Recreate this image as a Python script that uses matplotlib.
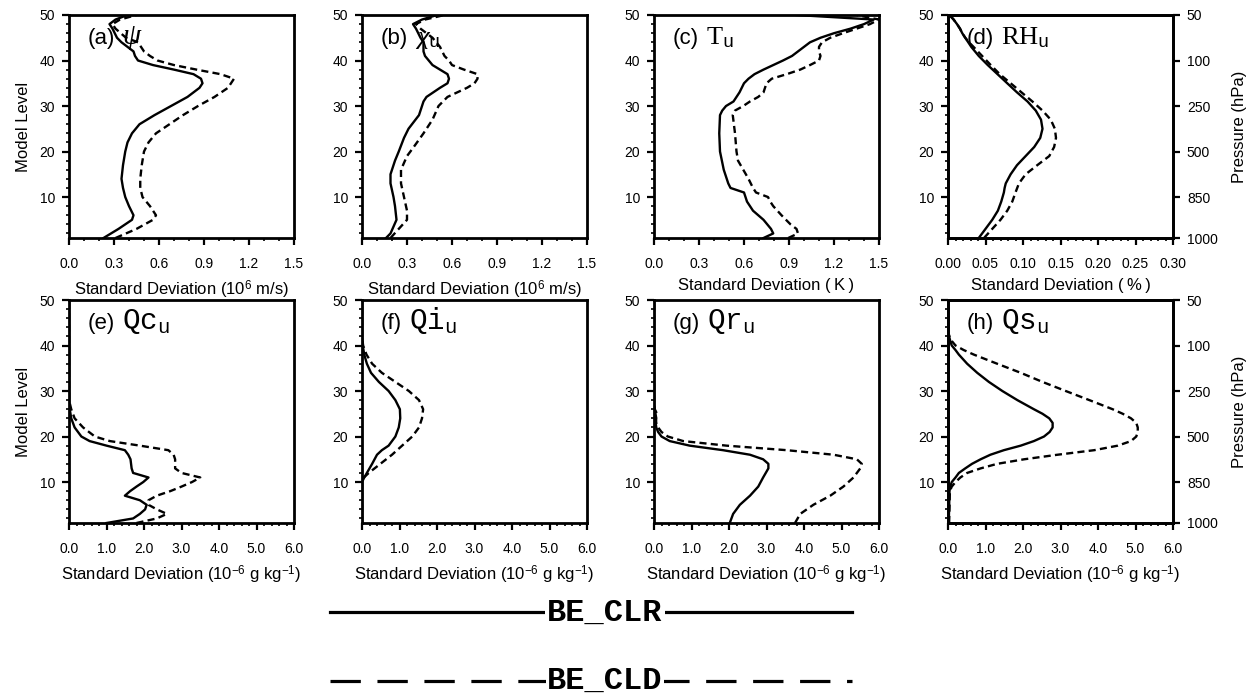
import matplotlib
matplotlib.use("Agg")
import matplotlib.pyplot as plt
from matplotlib.ticker import MultipleLocator, FormatStrFormatter
from matplotlib.lines import Line2D

plt.rcParams.update({
    'font.family': 'Liberation Sans',
    'mathtext.fontset': 'custom',
    'mathtext.rm': 'Liberation Sans',
    'mathtext.sf': 'Liberation Serif',
    'mathtext.tt': 'Liberation Mono',
    'mathtext.it': 'Liberation Serif:italic',
    'mathtext.bf': 'Liberation Sans:bold',
})

# ---------------- data (model level vs standard deviation) ----------------
# (a) psi
lev_psi_clr = [1, 3, 5, 6, 8, 10, 12, 14, 17, 20, 22, 24, 26, 27, 28, 30, 32, 34, 35, 36, 37, 38, 39, 40, 41, 42, 43, 44, 45, 47, 48, 49, 50]
psi_clr = [0.23, 0.33, 0.42, 0.43, 0.40, 0.375, 0.36, 0.35, 0.36, 0.375, 0.39, 0.42, 0.47, 0.52, 0.57, 0.68, 0.79, 0.87, 0.89, 0.88, 0.83, 0.70, 0.56, 0.46, 0.44, 0.43, 0.39, 0.35, 0.32, 0.29, 0.27, 0.31, 0.39]
lev_psi_cld = [1, 3, 5, 6, 7, 8, 10, 12, 14, 17, 20, 22, 24, 26, 28, 30, 32, 34, 35, 36, 37, 38, 39, 40, 41, 42, 43, 44, 45, 47, 48, 49, 50]
psi_cld = [0.31, 0.45, 0.56, 0.58, 0.56, 0.54, 0.49, 0.475, 0.475, 0.485, 0.50, 0.53, 0.58, 0.67, 0.76, 0.86, 0.97, 1.06, 1.08, 1.10, 1.01, 0.85, 0.70, 0.59, 0.54, 0.50, 0.48, 0.46, 0.38, 0.31, 0.29, 0.34, 0.45]

# (b) chi_u
lev_chi_clr = [1, 2, 5, 8, 10, 13, 15, 18, 20, 23, 25, 28, 31, 32, 34, 35, 36, 37, 38, 39, 41, 42, 44, 45, 47, 48, 49, 50]
chi_clr = [0.16, 0.19, 0.23, 0.22, 0.21, 0.19, 0.19, 0.22, 0.245, 0.28, 0.31, 0.38, 0.41, 0.43, 0.52, 0.57, 0.58, 0.57, 0.52, 0.47, 0.42, 0.41, 0.41, 0.39, 0.36, 0.34, 0.40, 0.50]
lev_chi_cld = [1, 3, 5, 7, 10, 13, 16, 19, 21, 24, 27, 30, 32, 33, 34, 35, 36, 37, 38, 39, 40, 41, 43, 45, 47, 48, 49, 50]
chi_cld = [0.19, 0.245, 0.30, 0.30, 0.28, 0.26, 0.26, 0.30, 0.345, 0.41, 0.47, 0.51, 0.57, 0.635, 0.70, 0.75, 0.77, 0.77, 0.68, 0.60, 0.58, 0.55, 0.52, 0.47, 0.39, 0.36, 0.42, 0.55]

# (c) T_u
lev_t_clr = [1, 2, 3, 5, 7, 9, 11, 12, 13, 16, 20, 24, 28, 29, 30, 31, 32, 33, 34, 35, 36, 37, 38, 39, 40, 41, 42, 43, 44, 45, 46, 47, 48, 49, 50]
t_clr = [0.73, 0.795, 0.78, 0.73, 0.66, 0.62, 0.60, 0.51, 0.495, 0.465, 0.44, 0.435, 0.44, 0.455, 0.48, 0.53, 0.55, 0.57, 0.585, 0.60, 0.63, 0.67, 0.73, 0.795, 0.86, 0.92, 0.96, 1.00, 1.04, 1.11, 1.20, 1.31, 1.40, 1.465, 0.95]
lev_t_cld = [1, 2, 3, 4, 6, 8, 9, 10, 11, 12, 14, 16, 18, 20, 24, 28, 29, 30, 31, 32, 33, 34, 35, 36, 37, 38, 39, 40, 41, 42, 43, 44, 45, 46, 47, 48, 49, 50]
t_cld = [0.895, 0.96, 0.95, 0.91, 0.85, 0.795, 0.775, 0.76, 0.68, 0.66, 0.63, 0.595, 0.56, 0.55, 0.54, 0.525, 0.54, 0.595, 0.64, 0.695, 0.73, 0.74, 0.75, 0.785, 0.885, 0.975, 1.04, 1.10, 1.11, 1.10, 1.10, 1.12, 1.175, 1.26, 1.35, 1.44, 1.50, 1.35]

# (d) RH_u
lev_rh_clr = [1, 3, 5, 7, 9, 11, 12, 13, 15, 17, 19, 21, 23, 25, 27, 29, 31, 33, 35, 37, 39, 41, 43, 45, 46, 47, 48, 49, 50]
rh_clr = [0.041, 0.050, 0.059, 0.0665, 0.071, 0.0745, 0.0755, 0.077, 0.0835, 0.092, 0.1035, 0.115, 0.123, 0.126, 0.124, 0.117, 0.106, 0.092, 0.079, 0.066, 0.053, 0.041, 0.031, 0.023, 0.019, 0.016, 0.012, 0.0075, 0.002]
lev_rh_cld = [1, 3, 5, 7, 9, 11, 13, 15, 17, 19, 21, 23, 25, 27, 29, 31, 33, 35, 37, 39, 41, 43, 44, 45, 46, 47, 48, 49, 50]
rh_cld = [0.048, 0.059, 0.070, 0.079, 0.0857, 0.090, 0.0946, 0.1035, 0.119, 0.135, 0.1415, 0.144, 0.1425, 0.137, 0.126, 0.1125, 0.098, 0.0835, 0.069, 0.057, 0.0455, 0.034, 0.028, 0.023, 0.019, 0.016, 0.012, 0.0075, 0.002]

# (e) Qc_u
lev_qc_clr = [1, 2, 3, 4, 5, 6, 7, 8, 9, 10, 11, 12, 13, 15, 16, 17, 18, 19, 20, 22, 24, 26, 28, 50]
qc_clr = [1.0, 1.71, 1.89, 2.03, 2.07, 1.89, 1.49, 1.63, 1.80, 1.98, 2.12, 1.71, 1.67, 1.64, 1.58, 1.49, 1.0, 0.55, 0.33, 0.15, 0.06, 0.02, 0.0, 0.0]
lev_qc_cld = [1, 2, 3, 4, 5, 6, 7, 8, 9, 10, 11, 12, 13, 15, 16, 17, 18, 19, 20, 22, 24, 26, 28, 50]
qc_cld = [1.8, 2.34, 2.61, 2.34, 2.12, 2.12, 2.34, 2.7, 3.0, 3.28, 3.5, 3.0, 2.83, 2.83, 2.79, 2.65, 1.89, 1.09, 0.69, 0.375, 0.15, 0.06, 0.0, 0.0]

# (f) Qi_u
lev_qi_clr = [1, 10, 11, 12, 14, 16, 17, 18, 20, 22, 24, 26, 28, 30, 32, 34, 36, 38, 40, 42, 50]
qi_clr = [0.0, 0.0, 0.06, 0.13, 0.27, 0.40, 0.53, 0.71, 0.89, 0.98, 1.02, 1.01, 0.89, 0.71, 0.45, 0.24, 0.13, 0.06, 0.02, 0.0, 0.0]
lev_qi_cld = [1, 10, 11, 12, 14, 16, 18, 20, 22, 24, 26, 28, 30, 32, 34, 36, 38, 40, 42, 50]
qi_cld = [0.0, 0.0, 0.05, 0.18, 0.49, 0.80, 1.07, 1.34, 1.52, 1.60, 1.63, 1.52, 1.25, 0.89, 0.53, 0.27, 0.12, 0.03, 0.0, 0.0]

# (g) Qr_u
lev_qr_clr = [1, 3, 5, 7, 9, 11, 13, 14, 15, 16, 17, 18, 19, 20, 21, 22, 23, 24, 25, 26, 27, 50]
qr_clr = [2.02, 2.11, 2.29, 2.56, 2.78, 2.91, 3.05, 3.05, 2.91, 2.56, 1.84, 0.95, 0.42, 0.2, 0.11, 0.06, 0.045, 0.06, 0.04, 0.02, 0.0, 0.0]
lev_qr_cld = [1, 3, 5, 7, 9, 11, 13, 14, 15, 16, 17, 18, 19, 20, 21, 22, 23, 24, 25, 26, 27, 50]
qr_cld = [3.76, 3.9, 4.25, 4.7, 5.05, 5.32, 5.5, 5.54, 5.41, 4.79, 3.54, 1.93, 0.78, 0.37, 0.2, 0.11, 0.06, 0.045, 0.08, 0.02, 0.0, 0.0]

# (h) Qs_u
lev_qs_clr = [1, 8, 9, 10, 11, 12, 13, 14, 15, 16, 17, 18, 19, 20, 21, 22, 23, 24, 25, 26, 27, 28, 30, 32, 34, 36, 38, 39, 40, 41, 42, 43, 50]
qs_clr = [0.02, 0.04, 0.06, 0.1, 0.2, 0.29, 0.46, 0.64, 0.87, 1.13, 1.49, 1.94, 2.29, 2.56, 2.71, 2.79, 2.79, 2.70, 2.52, 2.29, 2.07, 1.85, 1.45, 1.09, 0.78, 0.51, 0.29, 0.2, 0.1, 0.06, 0.03, 0.0, 0.0]
lev_qs_cld = [1, 8, 9, 10, 11, 12, 13, 14, 15, 16, 17, 18, 19, 20, 21, 22, 23, 24, 25, 26, 27, 28, 30, 32, 34, 36, 38, 39, 40, 41, 42, 43, 50]
qs_cld = [0.03, 0.05, 0.1, 0.2, 0.33, 0.51, 0.87, 1.31, 2.03, 2.92, 3.9, 4.53, 4.88, 5.02, 5.06, 5.06, 5.02, 4.88, 4.66, 4.39, 4.08, 3.77, 3.14, 2.52, 1.94, 1.31, 0.69, 0.42, 0.2, 0.1, 0.04, 0.0, 0.0]

panel_prefixes = ['(a)', '(b)', '(c)', '(d)', '(e)', '(f)', '(g)', '(h)']
panel_vars = [r'$\psi$', r'$\chi_{\mathtt{u}}$', r'$\mathsf{T}_{\mathtt{u}}$', r'$\mathsf{RH}_{\mathtt{u}}$',
              r'$\mathtt{Qc}_{\mathtt{u}}$', r'$\mathtt{Qi}_{\mathtt{u}}$', r'$\mathtt{Qr}_{\mathtt{u}}$', r'$\mathtt{Qs}_{\mathtt{u}}$']
xlabel_wind = 'Standard Deviation (10$^{6}$ m/s)'
xlabel_t = 'Standard Deviation (\u2009K\u2009)'
xlabel_rh = 'Standard Deviation (\u2009%\u2009)'
xlabel_q = 'Standard Deviation (10$^{-6}$ g kg$^{-1}$)'
pressure_levels = [50, 40, 30, 20, 10, 1]
pressure_labels = ['50', '100', '250', '500', '850', '1000']
legend_labels = ['BE_CLR', 'BE_CLD']

series = [
    (lev_psi_clr, psi_clr, lev_psi_cld, psi_cld),
    (lev_chi_clr, chi_clr, lev_chi_cld, chi_cld),
    (lev_t_clr, t_clr, lev_t_cld, t_cld),
    (lev_rh_clr, rh_clr, lev_rh_cld, rh_cld),
    (lev_qc_clr, qc_clr, lev_qc_cld, qc_cld),
    (lev_qi_clr, qi_clr, lev_qi_cld, qi_cld),
    (lev_qr_clr, qr_clr, lev_qr_cld, qr_cld),
    (lev_qs_clr, qs_clr, lev_qs_cld, qs_cld),
]
# x-axis settings: (xmax, major, minor, fmt, label)
xcfg = [
    (1.5, 0.3, 0.1, '%.1f', xlabel_wind),
    (1.5, 0.3, 0.1, '%.1f', xlabel_wind),
    (1.5, 0.3, 0.1, '%.1f', xlabel_t),
    (0.30, 0.05, 0.01, '%.2f', xlabel_rh),
    (6.0, 1.0, 0.2, '%.1f', xlabel_q),
    (6.0, 1.0, 0.2, '%.1f', xlabel_q),
    (6.0, 1.0, 0.2, '%.1f', xlabel_q),
    (6.0, 1.0, 0.2, '%.1f', xlabel_q),
]
var_sizes = [21, 19, 19, 19, 21, 21, 21, 21]

# ---------------- figure ----------------
W, H = 1257, 697
fig = plt.figure(figsize=(W / 100, H / 100), dpi=100)
lefts_px = [69, 362, 654, 948]
bottoms_px = [238, 523]
aw, ah = 225, 223

LW = 1.7
DASH = (0, (3.0, 1.8))

for i in range(8):
    r, c = divmod(i, 4)
    ax = fig.add_axes([lefts_px[c] / W, 1 - bottoms_px[r] / H, aw / W, ah / H])
    lc, vc, ld, vd = series[i]
    ax.plot(vc, lc, color='black', lw=LW, solid_joinstyle='round')
    ax.plot(vd, ld, color='black', lw=LW, ls=DASH)
    xmax, xmaj, xmin, fmt, xl = xcfg[i]
    ax.set_xlim(0, xmax)
    ax.set_ylim(1, 50)
    ax.xaxis.set_major_locator(MultipleLocator(xmaj))
    ax.xaxis.set_minor_locator(MultipleLocator(xmin))
    ax.xaxis.set_major_formatter(FormatStrFormatter(fmt))
    ax.yaxis.set_major_locator(MultipleLocator(10))
    ax.yaxis.set_minor_locator(MultipleLocator(2))
    for sp in ax.spines.values():
        sp.set_linewidth(2.0)
    ax.tick_params(which='major', direction='out', length=5, width=1.6, labelsize=10,
                   top=False, right=False)
    ax.tick_params(axis='x', which='major', pad=9)
    ax.tick_params(axis='y', which='major', pad=5)
    ax.tick_params(which='minor', direction='out', length=2.5, width=1.2, top=False, right=False)
    ax.set_xlabel(xl, fontsize=12, labelpad=5)
    if c == 0:
        ax.set_ylabel('Model Level', fontsize=12, labelpad=6)
    if c == 3:
        ax2 = ax.twinx()
        ax2.set_ylim(1, 50)
        ax2.set_yticks(pressure_levels)
        ax2.set_yticklabels(pressure_labels)
        ax2.tick_params(direction='out', length=5, width=1.6, labelsize=10, pad=5)
        ax2.set_ylabel('Pressure (hPa)', fontsize=12, labelpad=10)
        for sp in ax2.spines.values():
            sp.set_linewidth(2.0)
    pre = ax.text(0.084, 0.87, panel_prefixes[i], transform=ax.transAxes,
                  fontsize=16, ha='left', va='baseline')
    ax.annotate(panel_vars[i], xy=(1.0, 0.87), xycoords=(pre, 'axes fraction'),
                xytext=(5, 0), textcoords='offset points',
                fontsize=var_sizes[i], ha='left', va='baseline')

# ---------------- legend ----------------
x0, x1 = 330 / W, 852 / W
xc = 605 / W
y_solid = 1 - 612 / H
y_dash = 1 - 681 / H
fig.add_artist(Line2D([x0, x1], [y_solid, y_solid], transform=fig.transFigure,
                      color='black', lw=2.3))
fig.add_artist(Line2D([x0, x1], [y_dash, y_dash], transform=fig.transFigure,
                      color='black', lw=2.3, ls=(0, (9.5, 5.2))))
fig.text(xc, 1 - 621 / H, legend_labels[0], ha='center', va='baseline',
         family='Liberation Mono', weight='bold', fontsize=23,
         bbox=dict(facecolor='white', edgecolor='none', pad=1.5))
fig.text(xc, 1 - 689 / H, legend_labels[1], ha='center', va='baseline',
         family='Liberation Mono', weight='bold', fontsize=23,
         bbox=dict(facecolor='white', edgecolor='none', pad=1.0))

fig.savefig('out.png', dpi=100)
